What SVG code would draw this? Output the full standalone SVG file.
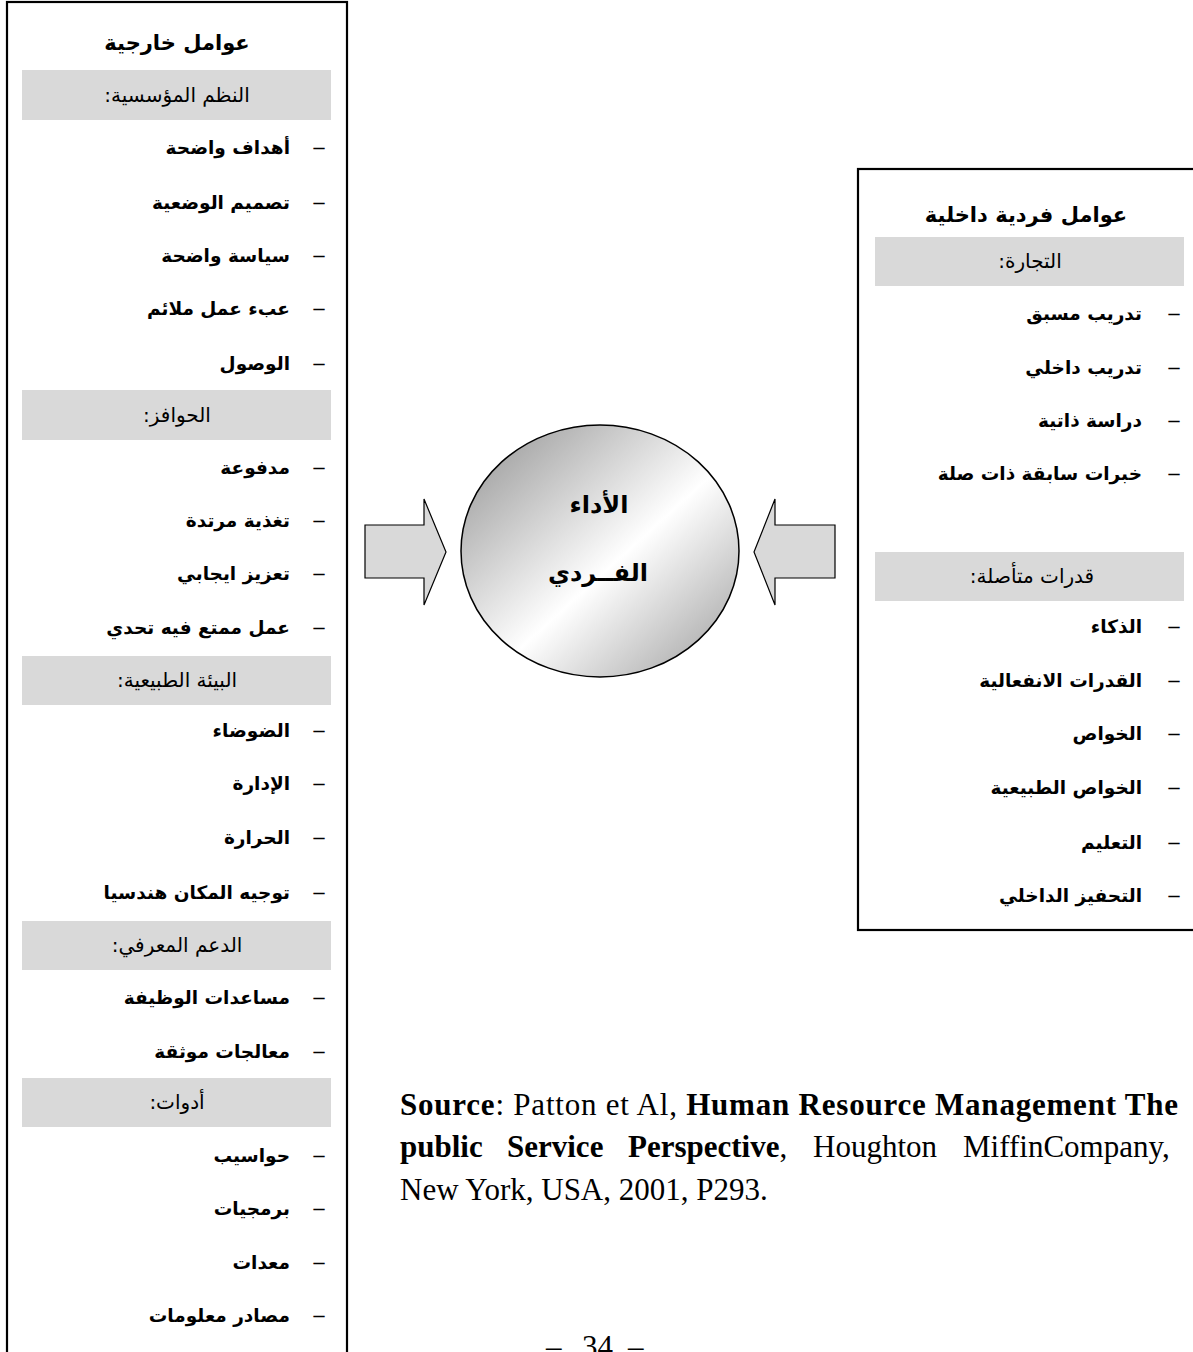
<svg xmlns="http://www.w3.org/2000/svg" width="1193" height="1352" viewBox="0 0 1193 1352">
<style>
.box{fill:#fff;stroke:#000;stroke-width:2.2}
.band{fill:#d9d9d9}
.ar{font-family:"DejaVu Sans",sans-serif;font-weight:bold;fill:#000;direction:rtl}
.title{font-size:21px;text-anchor:middle}
.head{font-size:20px;text-anchor:middle;font-weight:normal}
.item{font-size:18.5px;text-anchor:start}
.circ{font-size:24px;text-anchor:middle}
.dash{font-family:"Liberation Serif",serif;font-weight:bold;font-size:22px;text-anchor:middle;fill:#000}
.arrow{fill:#d9d9d9;stroke:#000;stroke-width:1.2}
.src{font-family:"Liberation Serif",serif;font-size:31px;fill:#000}
.b{font-weight:bold}
</style>
<defs>
<linearGradient id="g" x1="0" y1="0" x2="1" y2="1">
<stop offset="0" stop-color="#8f8f8f"/>
<stop offset="0.55" stop-color="#ffffff"/>
<stop offset="1" stop-color="#9a9a9a"/>
</linearGradient>
</defs>
<rect width="1193" height="1352" fill="#fff"/>

<g id="external-factors">
<rect class="box" x="7" y="2" width="340" height="1400"/>
<text class="ar title" x="177" y="50">عوامل خارجية</text>
<rect class="band" x="22" y="70" width="309" height="50"/>
<text class="ar head" x="177" y="102">النظم المؤسسية:</text>
<g>
<text class="dash" x="319" y="154">–</text><text class="ar item" x="290" y="154">أهداف واضحة</text>
<text class="dash" x="319" y="209">–</text><text class="ar item" x="290" y="209">تصميم الوضعية</text>
<text class="dash" x="319" y="262">–</text><text class="ar item" x="290" y="262">سياسة واضحة</text>
<text class="dash" x="319" y="315">–</text><text class="ar item" x="290" y="315">عبء عمل ملائم</text>
<text class="dash" x="319" y="370">–</text><text class="ar item" x="290" y="370">الوصول</text>
</g>
<rect class="band" x="22" y="390" width="309" height="50"/>
<text class="ar head" x="177" y="422">الحوافز:</text>
<g>
<text class="dash" x="319" y="474">–</text><text class="ar item" x="290" y="474">مدفوعة</text>
<text class="dash" x="319" y="527">–</text><text class="ar item" x="290" y="527">تغذية مرتدة</text>
<text class="dash" x="319" y="580">–</text><text class="ar item" x="290" y="580">تعزيز ايجابي</text>
<text class="dash" x="319" y="634">–</text><text class="ar item" x="290" y="634">عمل ممتع فيه تحدي</text>
</g>
<rect class="band" x="22" y="656" width="309" height="49"/>
<text class="ar head" x="177" y="687">البيئة الطبيعية:</text>
<g>
<text class="dash" x="319" y="737">–</text><text class="ar item" x="290" y="737">الضوضاء</text>
<text class="dash" x="319" y="790">–</text><text class="ar item" x="290" y="790">الإدارة</text>
<text class="dash" x="319" y="844">–</text><text class="ar item" x="290" y="844">الحرارة</text>
<text class="dash" x="319" y="899">–</text><text class="ar item" x="290" y="899">توجيه المكان هندسيا</text>
</g>
<rect class="band" x="22" y="921" width="309" height="49"/>
<text class="ar head" x="177" y="952">الدعم المعرفي:</text>
<g>
<text class="dash" x="319" y="1004">–</text><text class="ar item" x="290" y="1004">مساعدات الوظيفة</text>
<text class="dash" x="319" y="1058">–</text><text class="ar item" x="290" y="1058">معالجات موثقة</text>
</g>
<rect class="band" x="22" y="1078" width="309" height="49"/>
<text class="ar head" x="177" y="1109">أدوات:</text>
<g>
<text class="dash" x="319" y="1162">–</text><text class="ar item" x="290" y="1162">حواسيب</text>
<text class="dash" x="319" y="1215">–</text><text class="ar item" x="290" y="1215">برمجيات</text>
<text class="dash" x="319" y="1269">–</text><text class="ar item" x="290" y="1269">معدات</text>
<text class="dash" x="319" y="1322">–</text><text class="ar item" x="290" y="1322">مصادر معلومات</text>
</g>
</g>

<g id="internal-factors">
<rect class="box" x="858" y="169" width="400" height="761"/>
<text class="ar title" x="1026" y="222">عوامل فردية داخلية</text>
<rect class="band" x="875" y="237" width="309" height="49"/>
<text class="ar head" x="1030" y="268">التجارة:</text>
<g>
<text class="dash" x="1174" y="320">–</text><text class="ar item" x="1142" y="320">تدريب مسبق</text>
<text class="dash" x="1174" y="374">–</text><text class="ar item" x="1142" y="374">تدريب داخلي</text>
<text class="dash" x="1174" y="427">–</text><text class="ar item" x="1142" y="427">دراسة ذاتية</text>
<text class="dash" x="1174" y="480">–</text><text class="ar item" x="1142" y="480">خبرات سابقة ذات صلة</text>
</g>
<rect class="band" x="875" y="552" width="309" height="49"/>
<text class="ar head" x="1032" y="583">قدرات متأصلة:</text>
<g>
<text class="dash" x="1174" y="633">–</text><text class="ar item" x="1142" y="633">الذكاء</text>
<text class="dash" x="1174" y="687">–</text><text class="ar item" x="1142" y="687">القدرات الانفعالية</text>
<text class="dash" x="1174" y="740">–</text><text class="ar item" x="1142" y="740">الخواص</text>
<text class="dash" x="1174" y="794">–</text><text class="ar item" x="1142" y="794">الخواص الطبيعية</text>
<text class="dash" x="1174" y="849">–</text><text class="ar item" x="1142" y="849">التعليم</text>
<text class="dash" x="1174" y="902">–</text><text class="ar item" x="1142" y="902">التحفيز الداخلي</text>
</g>
</g>

<g id="performance">
<ellipse cx="600" cy="551" rx="139" ry="126" fill="url(#g)" stroke="#000" stroke-width="1.5"/>
<text class="ar circ" x="599" y="513">الأداء</text>
<text class="ar circ" x="598" y="581">الفــردي</text>
</g>

<g id="connectors">
<polygon class="arrow" points="365,525 424,525 424,499 446,552 424,605 424,578 365,578"/>
<polygon class="arrow" points="835,525 775,525 775,499 754,552 775,605 775,578 835,578"/>
</g>

<g id="source">
<text class="src" x="400" y="1115" textLength="778" lengthAdjust="spacing"><tspan class="b">Source</tspan>: Patton et Al, <tspan class="b">Human Resource Management The</tspan></text>
<text class="src" y="1157"><tspan class="b" x="400">public</tspan><tspan class="b" x="507">Service</tspan><tspan class="b" x="628">Perspective</tspan>,<tspan x="813">Houghton</tspan><tspan x="963">MiffinCompany,</tspan></text>
<text class="src" x="400" y="1200">New York, USA, 2001, P293.</text>
</g>

<g id="page-number">
<text class="src" y="1357"><tspan x="546">–</tspan><tspan x="582">34</tspan><tspan x="628">–</tspan></text>
</g>
</svg>
